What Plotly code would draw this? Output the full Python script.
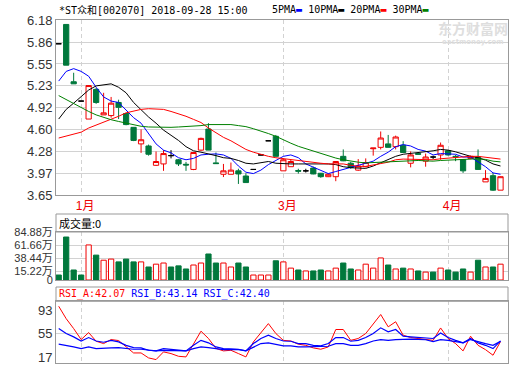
import plotly.graph_objects as go

# ---------------- data ----------------
TITLE = "*ST众和[002070] 2018-09-28 15:00"
MONTH_POS = [3, 30, 52]
MONTH_LABELS = ["1月", "3月", "4月"]

OPEN = [5.84, 6.12, 5.29, 5.01, 4.75, 5.18, 4.81, 4.80, 4.99, 4.83,
        4.63, 4.39, 4.36, 4.08, 4.10, 4.22, 4.16, 4.095, 4.02, 4.30,
        4.605, 4.115, 3.95, 3.95, 4.00, 3.925, 4.02, 4.23, 4.435, 4.50,
        4.00, 4.06, 4.005, 4.00, 4.04, 3.965, 3.915, 3.915, 4.21, 4.11,
        4.01, 4.06, 4.32, 4.34, 4.39, 4.35, 4.37, 4.11, 4.25, 4.14,
        4.20, 4.23, 4.29, 4.21, 4.16, 4.18, 4.20, 3.84, 3.93, 3.72]
HIGH = [5.84, 6.12, 5.42, 5.01, 5.24, 5.20, 5.13, 5.07, 5.03, 4.84,
        4.63, 4.60, 4.38, 4.28, 4.30, 4.30, 4.17, 4.13, 4.27, 4.48,
        4.69, 4.265, 4.10, 4.12, 4.03, 3.965, 4.02, 4.23, 4.435, 4.52,
        4.18, 4.16, 4.03, 4.03, 4.06, 3.97, 3.96, 4.14, 4.31, 4.13,
        4.17, 4.18, 4.33, 4.57, 4.52, 4.51, 4.43, 4.28, 4.27, 4.25,
        4.22, 4.41, 4.30, 4.23, 4.16, 4.22, 4.31, 4.01, 3.97, 3.92]
LOW = [5.84, 5.53, 5.26, 5.01, 4.75, 4.97, 4.81, 4.77, 4.75, 4.66,
       4.43, 4.26, 4.22, 4.07, 4.00, 4.18, 4.07, 4.00, 4.01, 4.29,
       4.30, 4.10, 3.91, 3.95, 3.81, 3.83, 4.02, 4.23, 4.435, 4.21,
       4.00, 4.06, 3.96, 3.975, 3.95, 3.90, 3.91, 3.85, 4.14, 4.03,
       4.00, 4.05, 4.22, 4.31, 4.34, 4.31, 4.26, 4.05, 4.23, 4.06,
       4.17, 4.16, 4.22, 4.14, 3.97, 4.17, 4.02, 3.84, 3.71, 3.72]
CLOSE = [5.84, 5.53, 5.26, 5.01, 5.235, 4.99, 4.84, 4.98, 4.92, 4.67,
         4.44, 4.45, 4.24, 4.135, 4.25, 4.22, 4.10, 4.085, 4.265, 4.47,
         4.30, 4.105, 4.00, 4.01, 3.955, 3.83, 4.02, 4.23, 4.435, 4.21,
         4.16, 4.135, 3.995, 4.00, 3.955, 3.915, 3.95, 4.135, 4.145, 4.05,
         4.07, 4.12, 4.33, 4.475, 4.34, 4.49, 4.265, 4.23, 4.24, 4.20,
         4.20, 4.37, 4.23, 4.20, 4.00, 4.21, 4.02, 3.89, 3.72, 3.915]

VOLUME = [8.8, 76, 17.7, 8.8, 62, 44, 35, 37, 32, 37,
          32, 32, 23, 28, 30, 23, 25, 19.5, 26.5, 30,
          46, 30, 30, 23, 30, 23, 8.8, 8.8, 8.8, 34,
          32, 21, 17.7, 16, 16, 17.7, 16, 21, 30, 19.5,
          17.7, 28, 21, 39, 26.5, 19.5, 21, 19.5, 16, 14,
          14, 21, 17.7, 14, 19.5, 14, 35, 23, 23, 28]

MA_NAMES = ["5PMA", "10PMA", "20PMA", "30PMA"]
MA5 = [5.30, 5.44, 5.48, 5.44, 5.37, 5.21, 5.07, 5.01, 4.99, 4.88,
       4.77, 4.69, 4.54, 4.39, 4.30, 4.26, 4.19, 4.16, 4.18, 4.23,
       4.24, 4.245, 4.23, 4.18, 4.07, 3.98, 3.96, 4.01, 4.09, 4.145,
       4.21, 4.23, 4.19, 4.10, 4.05, 4.00, 3.96, 3.99, 4.02, 4.04,
       4.07, 4.10, 4.14, 4.21, 4.27, 4.35, 4.38, 4.36, 4.31, 4.285,
       4.23, 4.25, 4.25, 4.24, 4.20, 4.20, 4.13, 4.06, 3.97, 3.95]
MA10 = [4.75, 4.89, 4.98, 5.07, 5.17, 5.23, 5.25, 5.26, 5.21, 5.13,
        4.99, 4.88, 4.78, 4.69, 4.59, 4.515, 4.44, 4.35, 4.29, 4.27,
        4.25, 4.22, 4.19, 4.18, 4.15, 4.11, 4.10, 4.12, 4.135, 4.11,
        4.10, 4.10, 4.10, 4.10, 4.10, 4.105, 4.10, 4.09, 4.06, 4.045,
        4.035, 4.035, 4.07, 4.115, 4.155, 4.21, 4.24, 4.25, 4.26, 4.275,
        4.29, 4.31, 4.30, 4.275, 4.24, 4.21, 4.19, 4.155, 4.10, 4.07]
MA20 = [4.475, 4.50, 4.53, 4.56, 4.62, 4.66, 4.70, 4.74, 4.79, 4.84,
        4.87, 4.89, 4.90, 4.90, 4.89, 4.86, 4.83, 4.79, 4.745, 4.70,
        4.62, 4.55, 4.485, 4.435, 4.37, 4.31, 4.27, 4.235, 4.21, 4.19,
        4.175, 4.16, 4.145, 4.14, 4.125, 4.11, 4.10, 4.105, 4.10, 4.08,
        4.065, 4.065, 4.08, 4.105, 4.125, 4.16, 4.17, 4.17, 4.16, 4.16,
        4.16, 4.175, 4.185, 4.195, 4.195, 4.21, 4.21, 4.20, 4.18, 4.17]
MA30 = [5.09, 5.03, 4.97, 4.92, 4.86, 4.81, 4.77, 4.74, 4.715, 4.69,
        4.665, 4.645, 4.635, 4.63, 4.63, 4.63, 4.635, 4.64, 4.645, 4.655,
        4.67, 4.67, 4.67, 4.67, 4.655, 4.64, 4.61, 4.58, 4.54, 4.50,
        4.445, 4.40, 4.355, 4.32, 4.28, 4.245, 4.215, 4.185, 4.16, 4.14,
        4.125, 4.115, 4.12, 4.13, 4.135, 4.145, 4.15, 4.155, 4.15, 4.145,
        4.14, 4.15, 4.155, 4.16, 4.165, 4.175, 4.175, 4.165, 4.14, 4.13]

RSI_A = [99, 79, 63, 45.3, 56.6, 42.6, 38.8, 45.3, 43.7, 33.4,
         23.7, 23.7, 15.7, 13, 25.4, 22.7, 18.3, 17.3, 38.8, 58.8,
         47, 31, 27, 28, 22.7, 17.3, 41.5, 56, 71, 55,
         44, 43, 37.8, 36, 31.8, 29.7, 33.4, 61.5, 61.5, 44,
         47, 55, 71, 85.7, 65.8, 74, 52.3, 48.5, 47, 45.3,
         44, 64, 47, 38.8, 27, 50.7, 36, 29, 20, 42.07]
RSI_B = [63, 55, 49.6, 43, 48.5, 43, 41, 44, 41.5, 36,
         32.4, 31.8, 28, 27, 30.7, 29.7, 28, 27, 36, 44,
         40, 33.4, 30.7, 30.7, 29.7, 27, 38.8, 47, 52.3, 47,
         43, 42.6, 38.8, 38.8, 36, 35, 38.8, 48.5, 48.5, 42.6,
         44, 48.5, 55, 64.2, 57.7, 61.5, 50.7, 49.6, 48.5, 48,
         47, 56, 48.5, 44, 40, 47, 40, 36, 30.7, 43.14]
RSI_C = [37.8, 35, 33.4, 30.7, 33.4, 30.7, 31.8, 31.8, 32.4, 30.7,
         29.7, 29.7, 28, 27, 28, 28, 27.5, 27, 30.7, 33.4,
         32.4, 30.7, 29, 29.5, 29, 27, 33.4, 38.8, 40, 37.2,
         35, 35, 33.4, 33.4, 33.4, 33.4, 34.5, 38.8, 38.8, 36,
         36, 38.8, 43, 45.3, 44, 45.3, 46, 46, 45.5, 45,
         42, 45.3, 44, 41.5, 40, 45.3, 41.5, 38.8, 36, 42.40]

PRICE_TICKS = [3.65, 3.966, 4.283, 4.599, 4.915, 5.231, 5.548, 5.864, 6.18]
PRICE_TICK_LABELS = ["3.65", "3.97", "4.28", "4.60", "4.92", "5.23", "5.55", "5.86", "6.18"]
VOL_TICKS = [0, 15.22, 38.44, 61.66, 84.88]
VOL_TICK_LABELS = ["0", "15.22万", "38.44万", "61.66万", "84.88万"]
VOL_NOW = 0
RSI_TICKS = [17, 55, 93]

# ---------------- styling / layout ----------------
W, H = 520, 365
RED = "#f00000"
GREEN = "#00783c"
MA_COLORS = ["#0000ff", "#000000", "#ff0000", "#008000"]
GRID = "#d2d2d2"
BORDER = "#999999"
LABEL_FONT = "Liberation Sans, Arial, Noto Sans CJK SC"
MONO = "DejaVu Sans Mono, Noto Sans CJK SC"


def px(x):
    return x / W


def py(y):
    return 1 - y / H


n = len(CLOSE)
idx = list(range(n))

up_i, dn_i, dj_i = [], [], []
for i in idx:
    if CLOSE[i] > OPEN[i]:
        up_i.append(i)
    elif CLOSE[i] < OPEN[i]:
        dn_i.append(i)
    else:
        dj_i.append(i)


def sub(lst, ids):
    return [lst[i] for i in ids]


fig = go.Figure()


def candle(ids, inc_line, inc_fill, dec_line, dec_fill):
    fig.add_trace(go.Candlestick(
        x=ids, open=sub(OPEN, ids), high=sub(HIGH, ids),
        low=sub(LOW, ids), close=sub(CLOSE, ids),
        increasing=dict(line=dict(color=inc_line, width=1), fillcolor=inc_fill),
        decreasing=dict(line=dict(color=dec_line, width=1), fillcolor=dec_fill),
        whiskerwidth=0, xaxis="x", yaxis="y", hoverinfo="skip",
        showlegend=False))


candle(up_i, RED, "#ffffff", RED, "#ffffff")
candle(dn_i, GREEN, GREEN, GREEN, GREEN)
candle(dj_i, "#000000", "#000000", "#000000", "#000000")

for vals, col in zip([MA5, MA10, MA20, MA30], MA_COLORS):
    fig.add_trace(go.Scatter(x=idx, y=vals, mode="lines",
                             line=dict(color=col, width=1),
                             xaxis="x", yaxis="y", hoverinfo="skip",
                             showlegend=False))

# volume colours: follow candle; doji -> compare with previous close
vol_fill, vol_line = [], []
for i in idx:
    prev = CLOSE[i - 1] if i > 0 else OPEN[i]
    is_up = CLOSE[i] > OPEN[i] or (CLOSE[i] == OPEN[i] and CLOSE[i] > prev)
    vol_fill.append("#ffffff" if is_up else GREEN)
    vol_line.append(RED if is_up else GREEN)

fig.add_trace(go.Bar(x=idx, y=VOLUME, width=0.7,
                     marker=dict(color=vol_fill, line=dict(color=vol_line, width=1)),
                     xaxis="x2", yaxis="y2", hoverinfo="skip", showlegend=False))

for vals, col, wd in [(RSI_A, "#ff0000", 1), (RSI_B, "#0000ff", 1.2), (RSI_C, "#0000ff", 1.2)]:
    fig.add_trace(go.Scatter(x=idx, y=vals, mode="lines",
                             line=dict(color=col, width=wd),
                             xaxis="x3", yaxis="y3", hoverinfo="skip",
                             showlegend=False))

XDOM = [px(56), px(508)]
XRANGE = [-0.36, n]

xcommon = dict(domain=XDOM, range=XRANGE, tickvals=MONTH_POS, showgrid=True,
               gridcolor=GRID, griddash="4px,3px", gridwidth=1, showline=True,
               mirror=True, linecolor=BORDER, linewidth=1, zeroline=False,
               ticks="", fixedrange=True, automargin=False)
ycommon = dict(showline=True, mirror=True, linecolor=BORDER, linewidth=1,
               zeroline=False, ticks="", gridcolor=GRID, gridwidth=1,
               tickfont=dict(family=LABEL_FONT, size=13, color="#333333"),
               fixedrange=True, automargin=False)

fig.update_layout(
    width=W, height=H, autosize=False,
    margin=dict(l=0, r=0, t=0, b=0, pad=0),
    paper_bgcolor="white", plot_bgcolor="white",
    showlegend=False, boxgap=0.3, boxgroupgap=0,
    xaxis=dict(xcommon, anchor="y", ticktext=MONTH_LABELS,
               tickfont=dict(family=LABEL_FONT, size=12, color="#ee0000"),
               ticklabelshift=4, rangeslider=dict(visible=False)),
    yaxis=dict(ycommon, domain=[py(195), py(20.3)], range=[PRICE_TICKS[0], PRICE_TICKS[-1]],
               tickvals=PRICE_TICKS, ticktext=PRICE_TICK_LABELS, anchor="x"),
    xaxis2=dict(xcommon, anchor="y2", showticklabels=False),
    yaxis2=dict(ycommon, domain=[py(280), py(232)], range=[VOL_TICKS[0], VOL_TICKS[-1]],
                tickvals=VOL_TICKS, ticktext=VOL_TICK_LABELS, anchor="x2",
                tickfont=dict(family=LABEL_FONT, size=11, color="#333333")),
    xaxis3=dict(xcommon, anchor="y3", showticklabels=False),
    yaxis3=dict(ycommon, domain=[py(363.3), py(301.3)], range=[7, 107],
                tickvals=RSI_TICKS, ticktext=[str(t) for t in RSI_TICKS],
                showgrid=False, anchor="x3"),
)

shapes = [
    dict(type="rect", xref="paper", yref="paper", x0=px(56), x1=px(508),
         y0=py(232), y1=py(214), line=dict(color=BORDER, width=1)),
    dict(type="rect", xref="paper", yref="paper", x0=px(56), x1=px(508),
         y0=py(301.3), y1=py(287), line=dict(color=BORDER, width=1)),
    dict(type="line", xref="x3 domain", yref="y3", x0=0, x1=1,
         y0=RSI_TICKS[1], y1=RSI_TICKS[1], line=dict(color=GRID, width=1),
         layer="below"),
]
fig.update_layout(shapes=shapes)

legend_txt = " ".join(
    f"{nm}<span style='color:{c}'>▬</span>" for nm, c in zip(MA_NAMES, MA_COLORS))
rsi_txt = (f"<span style='color:#ff0000'>RSI_A:{RSI_A[-1]:.2f}</span> "
           f"<span style='color:#0000ff'>RSI_B:{RSI_B[-1]:.2f}</span> "
           f"<span style='color:#0000ff'>RSI_C:{RSI_C[-1]:.2f}</span>")

ann = [
    dict(text=TITLE, x=px(57), y=py(10), xanchor="left", yanchor="middle",
         font=dict(family=MONO, size=10, color="#000000")),
    dict(text=legend_txt, x=px(270), y=py(9), xanchor="left", yanchor="middle",
         font=dict(family=MONO, size=10, color="#000000")),
    dict(text="<b>东方财富网</b>", x=px(473), y=py(28), xanchor="center", yanchor="middle",
         font=dict(family="Noto Sans CJK SC", size=14, color="#dedede")),
    dict(text="<b>eastmoney.com</b>", x=px(473), y=py(42), xanchor="center",
         yanchor="middle", font=dict(family="DejaVu Sans", size=7, color="#dedede")),
    dict(text=f"成交量:{VOL_NOW}", x=px(57), y=py(223), xanchor="left", yanchor="middle",
         font=dict(family="Noto Sans CJK SC, DejaVu Sans Mono", size=11, color="#000000")),
    dict(text=rsi_txt, x=px(57), y=py(294), xanchor="left", yanchor="middle",
         font=dict(family=MONO, size=10)),
]
for a in ann:
    a.update(xref="paper", yref="paper", showarrow=False)
fig.update_layout(annotations=ann)

fig.write_html("out.html", config={"displayModeBar": False},
               post_script="document.body.style.margin='0';")
